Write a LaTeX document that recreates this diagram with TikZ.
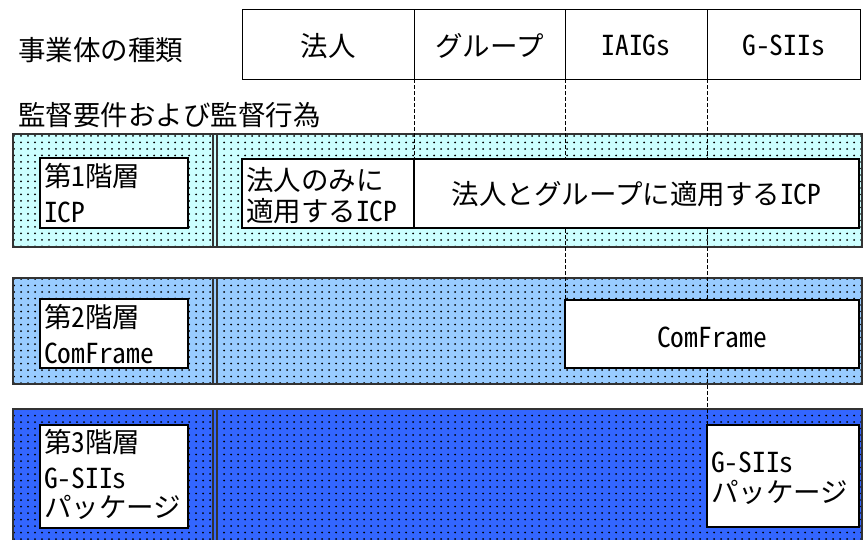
\documentclass[tikz,border=0pt]{standalone}
\usepackage{fontspec}
\setmainfont{Noto Sans CJK JP}
\newfontfamily\lat{Noto Sans CJK JP}[RawFeature=+hwid]
\usetikzlibrary{patterns.meta}
\definecolor{cA}{HTML}{CCFFFF}
\definecolor{cB}{HTML}{99CCFF}
\definecolor{cC}{HTML}{3366FF}
\tikzdeclarepattern{name=ddots,type=uncolored,bottom left={(-1.2pt,-1.2pt)},top right={(5.8pt,5.3pt)},tile size={(7pt,6.5pt)},code={\fill (0pt,0pt) circle (1pt);}}
\begin{document}
\begin{tikzpicture}[x=1pt,y=-1pt,
  txt/.style={inner sep=0pt, font=\fontsize{27.5}{30}\selectfont, anchor=base west},
  ctxt/.style={txt, anchor=base},
  wbox/.style={draw=black, fill=white, line width=1.2pt, inner sep=0pt, outer sep=0pt},
  band/.style={preaction={fill=#1}, pattern=ddots, pattern color=black, draw=black!80, line width=1.3pt},
  hdr/.style={draw=black, line width=1pt, inner sep=0pt, outer sep=0pt, minimum height=70pt},
  guide/.style={draw=black, line width=1pt, dash pattern=on 4pt off 2pt},
  dbl/.style={draw=black!80, line width=1.2pt}]
\useasboundingbox (0,0) rectangle (865,539);

% header
\node[txt] (t0) at (18,60.5) {事業体の種類};
\node[txt] (t00) at (18,125.5) {監督要件および監督行為};
\node[hdr, minimum width=172pt] (h1) at (328,44) {};
\node[hdr, minimum width=151pt] (h2) at (489.5,44) {};
\node[hdr, minimum width=142pt] (h3) at (636,44) {};
\node[hdr, minimum width=153pt] (h4) at (783.5,44) {};
\node[ctxt] (h1t) at (328,56) {法人};
\node[ctxt] (h2t) at (489.5,56) {グループ};
\node[ctxt] (h3t) at (636,55) {\lat IAIGs};
\node[ctxt] (h4t) at (783.5,55) {\lat G-SIIs};

% bands
\draw[band=cA] (13,134) rectangle (862,247);
\draw[band=cB] (13,278) rectangle (862,384);
\draw[band=cC] (13,409) rectangle (862,560);
\draw[dbl] (213,134) -- (213,247) (217,134) -- (217,247);
\draw[dbl] (213,278) -- (213,384) (217,278) -- (217,384);
\draw[dbl] (213,409) -- (213,560) (217,409) -- (217,560);

% guides
\coordinate (e1) at (414,159);
\coordinate (e2) at (565,300);
\coordinate (e3) at (707,425);
\draw[guide] (h1.south east) -- (e1);
\draw[guide] (h2.south east) -- (e2);
\draw[guide] (h3.south east) -- (e3);

% white boxes
\node[wbox, minimum width=148pt, minimum height=70pt] (L1) at (114,193) {};
\node[wbox, minimum width=148pt, minimum height=69pt] (L2) at (114,333.5) {};
\node[wbox, minimum width=148pt, minimum height=103pt] (L3) at (114,476.5) {};
\node[wbox, minimum width=172pt, minimum height=69pt] (A) at (328,193.5) {};
\node[wbox, minimum width=445pt, minimum height=69pt] (B) at (636.5,193.5) {};
\node[wbox, minimum width=294pt, minimum height=68pt] (CF) at (712,334) {};
\node[wbox, minimum width=152pt, minimum height=102pt] (GS) at (783,476) {};

% texts
\node[ctxt] (bt) at (636.5,204) {法人とグループに適用する{\lat ICP}};
\node[ctxt] (cft) at (712,347) {\lat ComFrame};
\node[txt] (l1a) at (44,186.5) {第{\lat 1}階層};
\node[txt] (l1b) at (44,222) {\lat ICP};
\node[txt] (a1) at (246,190.5) {法人のみに};
\node[txt] (a2) at (246,221) {適用する{\lat ICP}};
\node[txt] (l2a) at (44,327) {第{\lat 2}階層};
\node[txt] (l2b) at (44,363) {\lat ComFrame};
\node[txt] (l3a) at (44,452) {第{\lat 3}階層};
\node[txt] (l3b) at (44,488) {\lat G-SIIs};
\node[txt] (l3c) at (44,517) {パッケージ};
\node[txt] (g1) at (711,472) {\lat G-SIIs};
\node[txt] (g2) at (711,502) {パッケージ};
\end{tikzpicture}
\end{document}
